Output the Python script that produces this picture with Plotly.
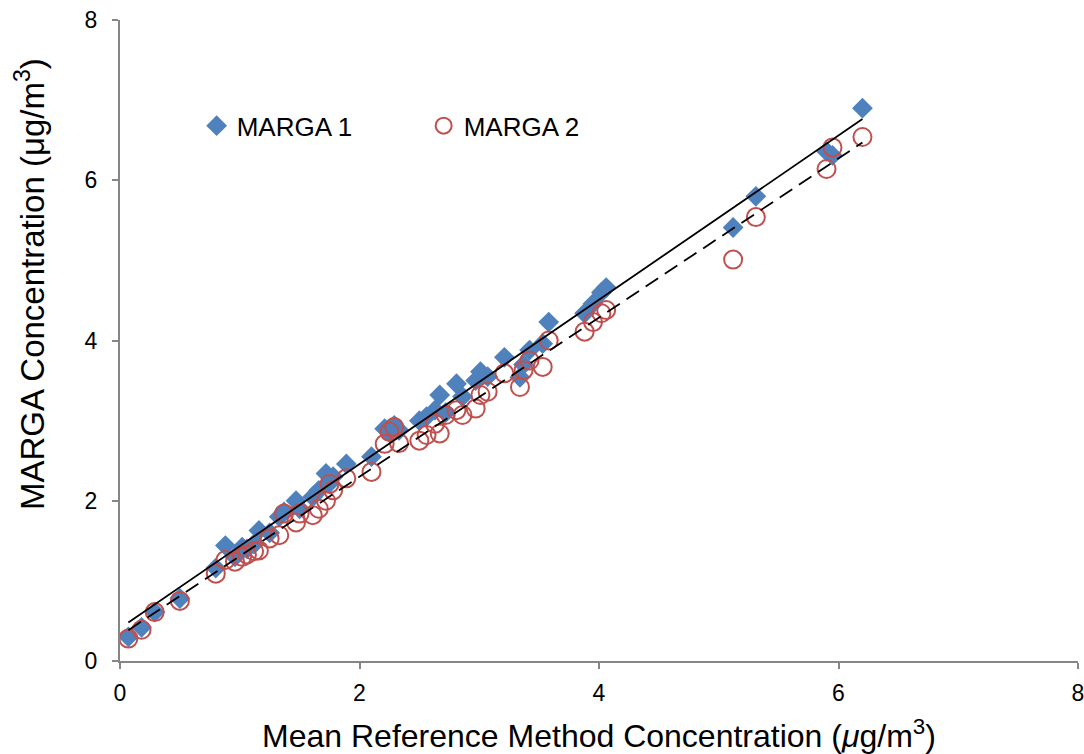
import numpy as np
import plotly.graph_objects as go

ref_conc = [0.07, 0.18, 0.29, 0.50, 0.80, 0.88, 0.96, 1.02, 1.06, 1.12, 1.16, 1.25, 1.33, 1.37,
            1.47, 1.50, 1.61, 1.66, 1.72, 1.75, 1.78, 1.89, 2.10, 2.21, 2.25, 2.29, 2.33, 2.50,
            2.56, 2.63, 2.67, 2.72, 2.81, 2.86, 2.97, 3.01, 3.07, 3.21, 3.34, 3.37, 3.42, 3.53,
            3.58, 3.88, 3.95, 4.02, 4.06, 5.12, 5.31, 5.90, 5.95, 6.20]
marga1 = [0.30, 0.42, 0.61, 0.78, 1.16, 1.44, 1.30, 1.42, 1.40, 1.46, 1.63, 1.60, 1.80, 1.86,
          2.00, 1.90, 2.05, 2.13, 2.34, 2.22, 2.30, 2.46, 2.55, 2.90, 2.85, 2.94, 2.88, 3.00,
          3.05, 3.13, 3.32, 3.10, 3.46, 3.30, 3.50, 3.61, 3.55, 3.79, 3.54, 3.70, 3.88, 3.96,
          4.23, 4.34, 4.46, 4.60, 4.66, 5.41, 5.80, 6.36, 6.31, 6.90]
marga2 = [0.28, 0.39, 0.61, 0.75, 1.09, 1.26, 1.24, 1.30, 1.33, 1.37, 1.38, 1.53, 1.57, 1.84,
          1.73, 1.84, 1.82, 1.90, 2.00, 2.21, 2.13, 2.28, 2.36, 2.71, 2.86, 2.92, 2.72, 2.75,
          2.82, 2.96, 2.84, 3.07, 3.13, 3.07, 3.15, 3.32, 3.36, 3.59, 3.42, 3.63, 3.75, 3.67,
          4.00, 4.11, 4.23, 4.34, 4.38, 5.01, 5.54, 6.14, 6.41, 6.54]
series_names = ["MARGA 1", "MARGA 2"]
axis_ticks = [0, 2, 4, 6, 8]
x_title = "Mean Reference Method Concentration (<i>μ</i>g/m<sup>3</sup>)"
y_title = "MARGA Concentration (μg/m<sup>3</sup>)"

x = np.array(ref_conc)
xr = np.array([x.min(), x.max()])
fit1 = np.polyfit(x, marga1, 1)
fit2 = np.polyfit(x, marga2, 1)

BLUE = "#4F81BD"
RED = "#C0504D"
FONT = "Liberation Sans, Arial, sans-serif"

fig = go.Figure()
fig.add_trace(go.Scatter(x=ref_conc, y=marga1, mode="markers", name=series_names[0],
                         marker=dict(symbol="diamond", size=16, color=BLUE, line=dict(width=0))))
fig.add_trace(go.Scatter(x=ref_conc, y=marga2, mode="markers", name=series_names[1],
                         marker=dict(symbol="circle-open", size=18, color=RED, line=dict(width=2, color=RED))))
fig.add_trace(go.Scatter(x=xr, y=np.polyval(fit1, xr), mode="lines", showlegend=False,
                         line=dict(color="black", width=1.8)))
fig.add_trace(go.Scatter(x=xr, y=np.polyval(fit2, xr), mode="lines", showlegend=False,
                         line=dict(color="black", width=1.8, dash="15px,8px")))

axis_common = dict(range=[0, 8], tickvals=axis_ticks, showgrid=False, zeroline=False,
                   showline=True, linecolor="#868686", linewidth=2, ticks="outside",
                   ticklen=6, tickwidth=2, tickcolor="#868686", ticklabeloverflow="allow",
                   tickfont=dict(family=FONT, size=23, color="black"))

fig.update_xaxes(**axis_common, ticklabelstandoff=4,
                 title=dict(text=x_title, font=dict(family=FONT, size=32, color="black"), standoff=21))
fig.update_yaxes(**axis_common, ticklabelstandoff=10)

fig.add_annotation(text=y_title, textangle=-90, xref="paper", yref="paper",
                   x=-0.094, y=0.588, xanchor="center", yanchor="middle", showarrow=False,
                   font=dict(family=FONT, size=33, color="black"))

fig.update_layout(
    width=1084, height=754,
    margin=dict(l=120, r=6, t=20, b=93, autoexpand=False),
    plot_bgcolor="white", paper_bgcolor="white",
    font=dict(family=FONT, color="black"),
    legend=dict(orientation="h", x=0.08, y=0.835, xanchor="left", yanchor="middle",
                font=dict(family=FONT, size=26, color="black"), bgcolor="rgba(0,0,0,0)",
                itemwidth=30, tracegroupgap=0, entrywidthmode="pixels", entrywidth=182),
)

fig.write_html("out.html")
